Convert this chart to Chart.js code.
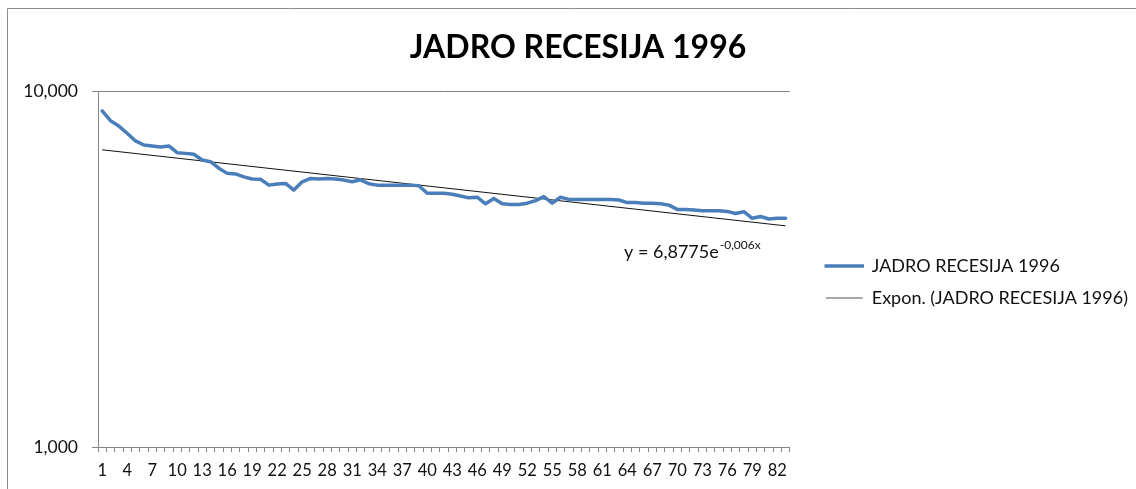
<!DOCTYPE html>
<html>
<head>
<meta charset="utf-8">
<script src="https://cdn.jsdelivr.net/npm/chart.js@4/dist/chart.umd.min.js"></script>
<style>
html,body{margin:0;padding:0;background:#fff;}
#wrap{position:relative;width:1136px;height:489px;}
</style>
</head>
<body>
<div id="wrap"><canvas id="c" width="1136" height="489"></canvas></div>
<script>
// ---- data ----
const categories = ['1','2','3','4','5','6','7','8','9','10','11','12','13','14','15','16','17','18','19','20',
  '21','22','23','24','25','26','27','28','29','30','31','32','33','34','35','36','37','38','39','40',
  '41','42','43','44','45','46','47','48','49','50','51','52','53','54','55','56','57','58','59','60',
  '61','62','63','64','65','66','67','68','69','70','71','72','73','74','75','76','77','78','79','80',
  '81','82','83'];
const seriesValues = [8.80,8.25,7.97,7.61,7.24,7.05,7.01,6.96,7.01,6.71,
  6.68,6.64,6.40,6.33,6.07,5.87,5.85,5.74,5.66,5.65,
  5.44,5.48,5.50,5.27,5.56,5.68,5.66,5.68,5.66,5.62,
  5.56,5.63,5.49,5.44,5.44,5.44,5.44,5.44,5.42,5.16,
  5.16,5.16,5.13,5.07,5.01,5.03,4.82,4.99,4.82,4.80,
  4.80,4.84,4.92,5.05,4.84,5.03,4.96,4.96,4.96,4.96,
  4.96,4.96,4.94,4.86,4.86,4.84,4.84,4.82,4.78,4.65,
  4.65,4.63,4.61,4.61,4.61,4.59,4.53,4.58,4.39,4.44,
  4.37,4.39,4.39];
const trendEnds = [6.836, 4.180];   // exponential trendline at first and last category
const yTickValues = [1, 10];
const yTickLabels = ['1,000', '10,000'];
const seriesName = 'JADRO RECESIJA 1996';
const trendName = 'Expon. (JADRO RECESIJA 1996)';
const titleText = 'JADRO RECESIJA 1996';
const equationMain = 'y = 6,8775e';
const equationExp = '-0,006x';

const trendData = categories.map((c, i) => i === 0 ? trendEnds[0] : (i === categories.length - 1 ? trendEnds[1] : null));

const FONT = 'Lato, "Open Sans", sans-serif';
const AXIS_GREY = '#868686';
const TEXT = '#111111';

const frame = {
  id: 'frame',
  beforeDraw(chart) {
    const ctx = chart.ctx;
    ctx.save();
    ctx.strokeStyle = '#8c8c8c';
    ctx.lineWidth = 1;
    ctx.beginPath();
    ctx.moveTo(7.5, 489); ctx.lineTo(7.5, 8.5); ctx.lineTo(1136, 8.5);
    ctx.stroke();
    ctx.restore();
  }
};

const legendFit = {
  id: 'legendFit',
  beforeLayout(chart) {
    const lg = chart.legend;
    if (lg && !lg.__patched) {
      const orig = lg.fit;
      lg.fit = function () { this.maxWidth = 600; return orig.call(this); };
      lg.__patched = true;
    }
  }
};

const equation = {
  id: 'equation',
  afterDraw(chart) {
    const ctx = chart.ctx;
    ctx.save();
    ctx.fillStyle = TEXT;
    ctx.textBaseline = 'alphabetic';
    ctx.textAlign = 'left';
    ctx.font = '18px ' + FONT;
    const x0 = 624, y0 = 258;
    ctx.fillText(equationMain, x0, y0);
    const w = ctx.measureText(equationMain).width;
    ctx.font = '12px ' + FONT;
    ctx.fillText(equationExp, x0 + w + 1, y0 - 9);
    ctx.restore();
  }
};

new Chart(document.getElementById('c'), {
  type: 'line',
  data: {
    labels: categories,
    datasets: [
      {
        label: seriesName,
        data: seriesValues,
        borderColor: '#4A7EBB',
        backgroundColor: '#4A7EBB',
        borderWidth: 3.5,
        pointRadius: 0,
        tension: 0,
        borderJoinStyle: 'round',
        borderCapStyle: 'round',
        yAxisID: 'y'
      },
      {
        label: trendName,
        data: trendData,
        borderColor: '#111111',
        backgroundColor: '#111111',
        borderWidth: 1,
        pointRadius: 0,
        spanGaps: true,
        tension: 0,
        yAxisID: 'y'
      }
    ]
  },
  options: {
    responsive: false,
    animation: false,
    devicePixelRatio: 1,
    layout: { padding: { left: 18, right: -2, top: 10, bottom: 0 } },
    plugins: {
      title: {
        display: true,
        text: titleText,
        color: '#000',
        font: { family: FONT, size: 32, weight: 'bold', lineHeight: 1.2 },
        padding: { top: 18, bottom: 24.6 }
      },
      legend: {
        display: true,
        position: 'right',
        align: 'center',
        fullSize: false,
        title: { display: true, text: ' ', padding: 13, font: { size: 1, lineHeight: 0 } },
        labels: {
          color: TEXT,
          font: { family: FONT, size: 18 },
          boxWidth: 37,
          boxHeight: 1,
          padding: 14,
          generateLabels(chart) {
            return [
              { text: seriesName, fillStyle: '#4A7EBB', strokeStyle: '#4A7EBB', lineWidth: 2.5, fontColor: TEXT, datasetIndex: 0 },
              { text: trendName, fillStyle: '#555555', strokeStyle: '#555555', lineWidth: 0, fontColor: TEXT, datasetIndex: 1 }
            ];
          }
        }
      },
      tooltip: { enabled: false }
    },
    scales: {
      x: {
        type: 'category',
        offset: true,
        grid: { display: true, drawOnChartArea: false, drawTicks: true, tickLength: 5, offset: true, color: AXIS_GREY },
        border: { display: true, color: AXIS_GREY },
        ticks: {
          autoSkip: false, maxRotation: 0, minRotation: 0, padding: 9,
          color: TEXT,
          font: { family: FONT, size: 16.5 },
          callback(value, index) { return index % 3 === 0 ? categories[index] : ''; }
        },
        afterFit(s) { s.height = 42; }
      },
      y: {
        type: 'logarithmic',
        position: 'left',
        min: 1, max: 10,
        grid: { display: true, drawOnChartArea: true, drawTicks: true, tickLength: 6, color: AXIS_GREY },
        border: { display: true, color: AXIS_GREY },
        afterBuildTicks(s) { s.ticks = yTickValues.map(v => ({ value: v })); },
        ticks: {
          padding: 14,
          color: TEXT,
          font: { family: FONT, size: 17.5 },
          callback(value) { const i = yTickValues.indexOf(value); return i >= 0 ? yTickLabels[i] : ''; }
        },
        afterFit(s) { s.width = 80; }
      },
      gap: {
        type: 'linear',
        position: 'right',
        display: true,
        grid: { display: false },
        border: { display: false },
        ticks: { display: false },
        afterFit(s) { s.width = 22; }
      }
    }
  },
  plugins: [frame, legendFit, equation]
});
</script>
</body>
</html>
